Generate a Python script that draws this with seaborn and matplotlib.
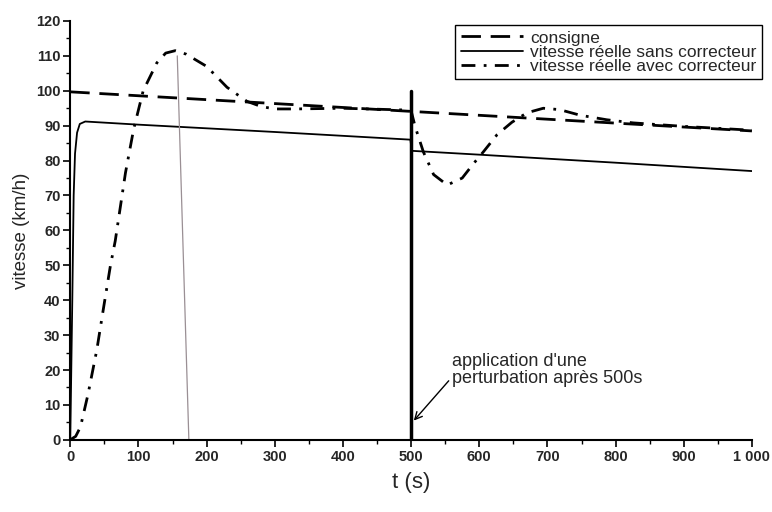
import numpy as np
import pandas as pd
import seaborn as sns
import matplotlib.pyplot as plt
from matplotlib.ticker import MultipleLocator

# valeurs (km/h en fonction de t en s)
t_consigne = [0, 1000]
v_consigne = [99.7, 88.5]

t_sans = [0, 3, 5, 7, 10, 14, 22, 100, 300, 499, 501, 600, 800, 1000]
v_sans = [0, 40, 70, 82, 88, 90.5, 91.2, 90.3, 88.2, 86.0, 82.8, 81.7, 79.4, 77.0]

t_avec = [0, 8, 15, 26, 39, 49, 59, 66, 81, 93, 107, 127, 140, 154, 170, 200, 230,
          259, 280, 300, 330, 400, 490, 500, 506, 518, 533, 553, 575, 591, 606, 626,
          648, 670, 694, 718, 748, 787, 826, 900, 1000]
v_avec = [0, 1, 3.7, 13, 25.8, 38, 50, 57, 76.5, 89, 100, 108, 110.8, 111.5, 110.5,
          107, 101, 97, 95.5, 94.8, 94.8, 95, 94.5, 94.3, 89.7, 82.5, 76, 73, 75, 79,
          82.5, 87.4, 91, 93.7, 95, 94.6, 93, 91.7, 90.8, 89.8, 88.7]

labels = ["consigne", "vitesse réelle sans correcteur", "vitesse réelle avec correcteur"]
xtick_vals = [0, 100, 200, 300, 400, 500, 600, 700, 800, 900, 1000]
xtick_labels = ["0", "100", "200", "300", "400", "500", "600", "700", "800", "900", "1 000"]

sns.set_theme(style="ticks")
plt.rcParams['font.family'] = ['Liberation Sans', 'DejaVu Sans']

fig = plt.figure(figsize=(7.72, 5.12), dpi=100)
ax = fig.add_axes([0.091, 0.141, 0.883, 0.818])

sns.lineplot(x=t_consigne, y=v_consigne, ax=ax, color="black", lw=2.0,
             label=labels[0], estimator=None, sort=False)
ax.lines[-1].set_dashes((7, 3.5))
sns.lineplot(x=t_sans, y=v_sans, ax=ax, color="black", lw=1.3,
             label=labels[1], estimator=None, sort=False)
sns.lineplot(x=t_avec, y=v_avec, ax=ax, color="black", lw=2.0,
             label=labels[2], estimator=None, sort=False)
ax.lines[-1].set_dashes((5, 3, 1, 3))

# trait de perturbation à 500 s et trait fin (crayon)
ax.plot([500, 500], [0, 100], color="black", lw=2.5)
ax.plot([157, 174], [110, 0], color="#9a8f94", lw=0.9)

ax.annotate("application d'une\nperturbation après 500s", xy=(504, 5.5), xytext=(560, 15),
            fontsize=13, ha="left", va="bottom", linespacing=1.05,
            arrowprops=dict(arrowstyle="->", color="black", lw=1.0, shrinkA=0, shrinkB=0,
                            relpos=(0, 0.3)))

ax.set_xlim(0, 1000)
ax.set_ylim(0, 120)
ax.set_xticks(xtick_vals)
ax.set_xticklabels(xtick_labels, fontweight="bold", fontsize=10.5)
ax.set_yticks(range(0, 121, 10))
ax.set_yticklabels([str(v) for v in range(0, 121, 10)], fontweight="bold", fontsize=10.5)
ax.xaxis.set_minor_locator(MultipleLocator(50))
ax.yaxis.set_minor_locator(MultipleLocator(5))
ax.tick_params(which="major", length=5, width=1.2, color="black", pad=2)
ax.tick_params(which="minor", length=3, width=1.0, color="black")
for s in ["left", "bottom"]:
    ax.spines[s].set_linewidth(1.5)
    ax.spines[s].set_color("black")
sns.despine(ax=ax)

ax.set_xlabel("t (s)", fontsize=16, labelpad=6)
ax.set_ylabel("vitesse (km/h)", fontsize=13.5, labelpad=4)

leg = ax.legend(loc="upper left", bbox_to_anchor=(0.565, 0.99), fontsize=12.5,
                frameon=True, fancybox=False, edgecolor="black", framealpha=1,
                handlelength=3.6, handletextpad=0.4, labelspacing=-0.05,
                borderpad=0.3, borderaxespad=0)
leg.get_frame().set_linewidth(1.0)

fig.savefig("out.png", dpi=100)
